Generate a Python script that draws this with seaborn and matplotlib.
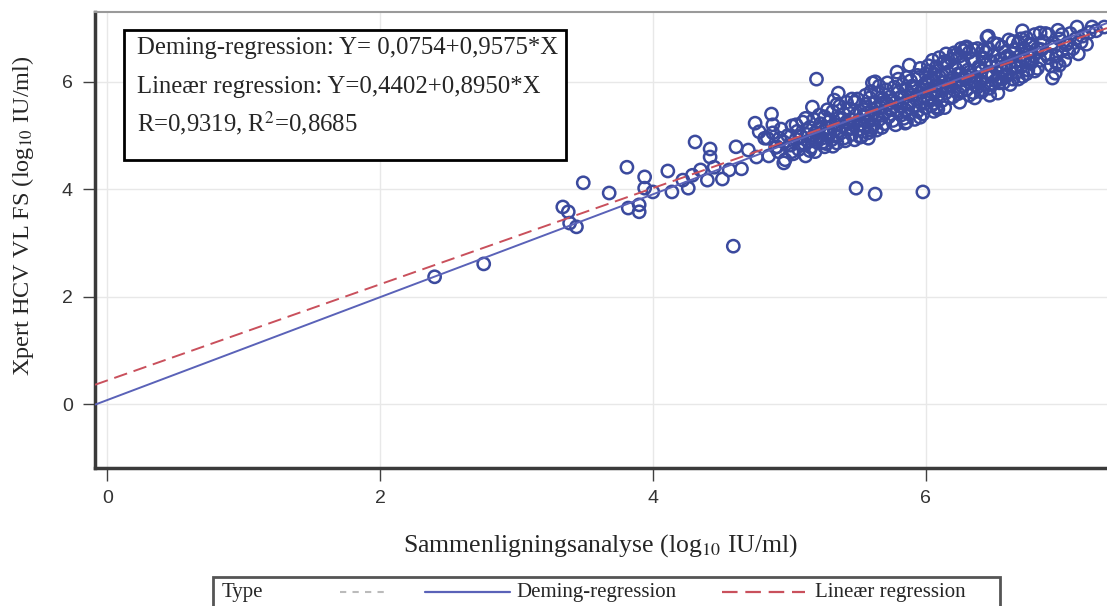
import numpy as np
import pandas as pd
import seaborn as sns
import matplotlib.pyplot as plt
from matplotlib.lines import Line2D
from matplotlib.patches import Rectangle

# regression coefficients from the chart
deming_a, deming_b = 0.0754, 0.9575
lin_a, lin_b = 0.4402, 0.8950
line_x = [-0.09, 7.33]

# sparse points (low range + outliers)
x_sparse = [2.40, 2.76, 3.34, 3.38, 3.39, 3.44, 3.49, 3.68, 3.81, 3.82, 3.90, 3.94, 3.94, 3.90,
            4.00, 4.11, 4.14, 4.22, 4.26, 4.29, 4.31, 4.35, 4.40, 4.42, 4.42, 4.45, 4.51, 4.56,
            4.59, 4.61, 4.65, 4.70, 4.75, 4.76, 4.78, 4.87, 4.84, 4.91, 4.96, 4.88, 4.93,
            5.49, 5.63, 5.98]
y_sparse = [2.37, 2.61, 3.67, 3.58, 3.37, 3.30, 4.12, 3.93, 4.41, 3.65, 3.71, 4.23, 4.02, 3.58,
            3.95, 4.34, 3.95, 4.17, 4.02, 4.26, 4.88, 4.36, 4.17, 4.75, 4.60, 4.41, 4.19, 4.36,
            2.94, 4.79, 4.38, 4.73, 5.23, 4.60, 5.07, 5.40, 4.95, 4.79, 4.49, 5.20, 4.95,
            4.02, 3.91, 3.95]

# edge points of the dense cloud
x_edge = [5.20, 5.17, 5.33, 5.36, 5.61, 5.63, 5.79, 5.88, 5.85, 5.96, 6.08, 6.09, 6.21, 6.29,
          5.52, 5.60, 5.26, 5.35, 6.30, 6.42, 6.45, 6.71, 6.84, 6.97, 6.41, 6.47, 6.53, 6.93,
          6.95, 6.98, 7.03, 7.14, 7.11, 7.22, 7.31]
y_edge = [6.05, 5.53, 5.66, 5.79, 5.98, 6.00, 6.18, 6.31, 5.23, 5.34, 5.53, 5.49, 6.54, 6.63,
          4.97, 5.10, 4.79, 4.86, 6.65, 6.59, 6.83, 6.95, 6.91, 6.96, 5.81, 5.75, 5.79, 6.07,
          6.16, 6.31, 6.69, 6.74, 7.02, 7.02, 7.02]

# dense cloud, by band of x
x_band_a = [4.82, 4.85, 4.88, 4.90, 4.92, 4.94, 4.96, 4.97, 4.99, 5.01, 5.02, 5.03, 5.05, 5.06, 5.07,
            5.09, 5.10, 5.11, 5.12, 5.13, 5.14, 5.15, 5.16, 5.17, 5.18, 5.19, 5.19, 5.20, 5.21, 5.22]
y_band_a = [4.95, 4.62, 5.05, 4.78, 4.70, 5.12, 4.88, 4.55, 5.00, 4.82, 5.18, 4.66, 4.93, 5.08, 4.74,
            4.98, 5.25, 4.85, 4.62, 5.02, 4.90, 5.15, 4.78, 4.96, 5.30, 5.05, 4.70, 4.88, 5.12, 4.98]

x_band_b = [5.23, 5.24, 5.25, 5.26, 5.27, 5.28, 5.29, 5.30, 5.31, 5.32, 5.33, 5.34, 5.35, 5.36,
            5.37, 5.38, 5.39, 5.40, 5.41, 5.42, 5.43, 5.44, 5.45, 5.46, 5.47, 5.48, 5.49, 5.50,
            5.51, 5.52, 5.53, 5.54, 5.55, 5.56, 5.57, 5.58, 5.58, 5.59, 5.60, 5.60]
y_band_b = [5.22, 4.95, 5.08, 5.35, 4.85, 5.15, 5.02, 5.28, 4.92, 5.45, 5.10, 5.20, 4.98, 5.32,
            5.55, 5.05, 5.18, 5.40, 4.90, 5.25, 5.12, 5.50, 5.30, 5.02, 5.20, 5.62, 5.38, 5.10,
            5.28, 5.45, 4.98, 5.35, 5.18, 5.58, 5.42, 5.05, 5.25, 5.70, 5.33, 5.15]

x_band_c = [5.61, 5.62, 5.63, 5.64, 5.65, 5.66, 5.67, 5.68, 5.69, 5.70, 5.71, 5.72, 5.73, 5.74,
            5.75, 5.76, 5.77, 5.78, 5.79, 5.80, 5.81, 5.82, 5.83, 5.84, 5.85, 5.86, 5.87, 5.88,
            5.89, 5.90, 5.91, 5.92, 5.93, 5.94, 5.95, 5.96, 5.97, 5.98, 5.99, 6.00, 6.00, 5.99]
y_band_c = [5.48, 5.20, 5.62, 5.38, 5.78, 5.30, 5.52, 5.15, 5.68, 5.42, 5.85, 5.58, 5.35, 5.72,
            5.50, 5.28, 5.90, 5.62, 5.45, 5.80, 5.55, 5.38, 5.95, 5.70, 5.48, 5.85, 5.62, 5.40,
            6.02, 5.75, 5.55, 5.88, 5.68, 5.45, 6.08, 5.80, 5.60, 5.92, 5.72, 5.52, 6.15, 5.85]

x_band_d = [6.01, 6.02, 6.03, 6.04, 6.05, 6.06, 6.07, 6.08, 6.09, 6.10, 6.11, 6.12, 6.13, 6.14,
            6.15, 6.16, 6.17, 6.18, 6.19, 6.20, 6.21, 6.22, 6.23, 6.24, 6.25, 6.26, 6.27, 6.28,
            6.29, 6.30, 6.31, 6.32, 6.33, 6.34, 6.35, 6.36, 6.37, 6.38, 6.39, 6.40, 6.05, 6.15,
            6.25, 6.35, 6.12, 6.22, 6.32, 6.02]
y_band_d = [5.95, 5.68, 6.20, 5.82, 6.05, 5.60, 5.92, 6.28, 5.75, 6.10, 5.88, 5.65, 6.35, 6.00,
            5.80, 6.18, 5.95, 5.70, 6.42, 6.08, 5.85, 6.25, 6.02, 5.78, 6.48, 6.15, 5.92, 6.32,
            6.05, 5.85, 6.22, 6.55, 5.98, 6.12, 5.80, 6.38, 6.08, 5.90, 6.28, 6.00, 6.40, 6.52,
            5.62, 6.60, 6.12, 5.98, 6.18, 6.02]

x_band_e = [6.41, 6.42, 6.43, 6.44, 6.45, 6.46, 6.47, 6.48, 6.49, 6.50, 6.51, 6.52, 6.53, 6.54,
            6.55, 6.56, 6.57, 6.58, 6.59, 6.60, 6.61, 6.62, 6.63, 6.64, 6.65, 6.66, 6.67, 6.68,
            6.69, 6.70, 6.71, 6.72, 6.73, 6.74, 6.75, 6.76, 6.77, 6.78, 6.79, 6.80]
y_band_e = [6.20, 6.45, 5.95, 6.32, 6.10, 6.62, 5.88, 6.38, 6.15, 6.50, 6.02, 6.28, 6.70, 6.08,
            6.42, 6.22, 5.98, 6.55, 6.32, 6.12, 6.78, 6.45, 6.25, 6.05, 6.60, 6.38, 6.18, 6.72,
            6.48, 6.28, 6.10, 6.62, 6.40, 6.82, 6.22, 6.55, 6.35, 6.70, 6.48, 6.20]

x_band_f = [6.82, 6.84, 6.86, 6.88, 6.90, 6.92, 6.94, 6.96, 6.98, 7.00, 7.02, 7.04, 7.06, 7.08,
            7.10, 7.12, 7.15, 7.18, 7.20, 7.25]
y_band_f = [6.62, 6.40, 6.75, 6.52, 6.88, 6.30, 6.65, 6.48, 6.80, 6.58, 6.40, 6.72, 6.90, 6.62,
            6.80, 6.52, 6.85, 6.70, 6.92, 6.95]

# second layer of the core, wider spread
x_core2 = [5.02, 5.05, 5.08, 5.12, 5.15, 5.18, 5.22, 5.25, 5.28, 5.30, 5.32, 5.35, 5.38, 5.40,
           5.42, 5.45, 5.48, 5.50, 5.52, 5.55, 5.58, 5.60, 5.62, 5.64, 5.66, 5.68, 5.70, 5.72,
           5.74, 5.76, 5.78, 5.80, 5.82, 5.84, 5.86, 5.88, 5.90, 5.92, 5.94, 5.96, 5.98, 6.00,
           6.02, 6.04, 6.06, 6.08, 6.10, 6.12, 6.14, 6.16, 6.18, 6.20, 6.22, 6.24, 6.26, 6.28,
           6.30, 6.32, 6.34, 6.36, 6.38, 6.40, 6.42, 6.44, 6.46, 6.48, 6.50, 6.52, 6.54, 6.56,
           6.58, 6.60, 6.62, 6.64, 6.66, 6.68, 6.70, 6.72, 6.74, 6.76, 6.78, 6.80, 6.82, 6.85,
           6.88, 6.90, 6.93, 6.96, 7.00, 7.05, 5.96, 6.06, 6.26, 6.46, 5.56, 5.46, 6.14, 6.36,
           5.86, 6.56]
y_core2 = [4.70, 5.20, 4.85, 5.32, 4.72, 5.00, 5.38, 4.88, 5.48, 5.05, 4.80, 5.58, 5.30, 4.95,
           5.62, 5.15, 4.92, 5.68, 5.20, 5.48, 4.95, 5.82, 5.42, 5.10, 5.92, 5.60, 5.22, 5.98,
           5.48, 5.65, 5.20, 6.05, 5.72, 5.32, 6.08, 5.58, 5.92, 5.30, 6.12, 5.68, 5.40, 5.98,
           6.30, 5.55, 6.15, 5.82, 6.45, 5.92, 5.52, 6.35, 6.02, 5.72, 6.50, 6.15, 5.82, 6.58,
           6.10, 5.75, 6.42, 6.00, 6.62, 6.25, 5.85, 6.55, 6.18, 5.95, 6.72, 6.38, 5.98, 6.65,
           6.12, 6.48, 5.95, 6.75, 6.30, 6.05, 6.80, 6.45, 6.15, 6.70, 6.38, 6.88, 6.25, 6.60,
           6.90, 6.45, 6.72, 6.35, 6.88, 6.55, 6.25, 5.45, 6.62, 6.85, 5.75, 5.68, 6.38, 5.70,
           5.25, 6.05]

pts = pd.DataFrame({
    "x": x_sparse + x_edge + x_band_a + x_band_b + x_band_c + x_band_d + x_band_e + x_band_f + x_core2,
    "y": y_sparse + y_edge + y_band_a + y_band_b + y_band_c + y_band_d + y_band_e + y_band_f + y_core2,
})
lines = pd.DataFrame({
    "x": line_x + line_x,
    "y": [deming_a + deming_b * v for v in line_x] + [lin_a + lin_b * v for v in line_x],
    "Type": ["Deming-regression"] * 2 + ["Lineær regression"] * 2,
})

sns.set_style("whitegrid")
plt.rcParams["font.family"] = ["Liberation Serif", "DejaVu Serif"]
plt.rcParams["mathtext.fontset"] = "stix"

point_col = "#3B4A9E"
blue = "#5A62B8"
red = "#C9505C"

fig = plt.figure(figsize=(11.07, 6.06), dpi=100)
ax = fig.add_axes([95 / 1107, 1 - 468 / 606, 1 - 95 / 1107, (468 - 12) / 606])

sns.scatterplot(data=pts, x="x", y="y", ax=ax, marker="o", s=78, facecolor="none",
                edgecolor=point_col, linewidth=1.8, legend=False, zorder=3)
sns.lineplot(data=lines, x="x", y="y", hue="Type", style="Type", ax=ax,
             palette=[blue, red], dashes=[(1, 0), (7, 3.5)], linewidth=1.4,
             legend=False, zorder=4)

ax.set_xlim(-0.09, 7.33)
ax.set_ylim(-1.19, 7.30)
ax.set_xticks([0, 2, 4, 6])
ax.set_yticks([0, 2, 4, 6])
ax.grid(True, color="#E8E8E8", linewidth=1)
ax.tick_params(axis="both", length=9, width=1, color="#404040", labelsize=14,
               labelcolor="#333333", pad=7, left=True, bottom=True)
for lab in ax.get_xticklabels() + ax.get_yticklabels():
    lab.set_family(["Liberation Sans", "DejaVu Sans"])

ax.spines["right"].set_visible(False)
ax.spines["top"].set_color("#9A9A9A")
ax.spines["top"].set_linewidth(1.5)
for s in ["left", "bottom"]:
    ax.spines[s].set_color("#3A3A3A")
    ax.spines[s].set_linewidth(2.5)

ax.set_xlabel("Sammenligningsanalyse (log$_{10}$ IU/ml)", fontsize=18.5, labelpad=18)
ax.set_ylabel("Xpert HCV VL FS (log$_{10}$ IU/ml)", fontsize=17.5)
ax.yaxis.set_label_coords(-0.058, 0.553)

# equation box
ax.add_patch(Rectangle((0.0287, 0.6754), 0.4367, 0.2851, transform=ax.transAxes,
                       facecolor="white", edgecolor="black", linewidth=2, zorder=5))
box_lines = ["Deming-regression: Y= 0,0754+0,9575*X",
             "Lineær regression: Y=0,4402+0,8950*X",
             "R=0,9319, R$^{2}$=0,8685"]
for txt, yy in zip(box_lines, [0.908, 0.8224, 0.739]):
    ax.text(0.0415, yy, txt, transform=ax.transAxes, fontsize=17.8, va="baseline",
            ha="left", zorder=6)

# legend along the bottom edge
fig.add_artist(Rectangle((213 / 1107, -0.05), (1000 - 213) / 1107, 0.0479 + 0.05,
                         transform=fig.transFigure, facecolor="white",
                         edgecolor="#555555", linewidth=2))
ly = 1 - 592 / 606
fig.text(222 / 1107, ly, "Type", fontsize=15, va="center", ha="left")
fig.add_artist(Line2D([340 / 1107, 390 / 1107], [ly, ly], transform=fig.transFigure,
                      color="#BBBBBB", linewidth=1.5, dashes=(3, 3)))
fig.add_artist(Line2D([425 / 1107, 510 / 1107], [ly, ly], transform=fig.transFigure,
                      color=blue, linewidth=1.6))
fig.text(516 / 1107, ly, "Deming-regression", fontsize=15, va="center", ha="left")
fig.add_artist(Line2D([722 / 1107, 805 / 1107], [ly, ly], transform=fig.transFigure,
                      color=red, linewidth=1.6, dashes=(7, 3.5)))
fig.text(815 / 1107, ly, "Lineær regression", fontsize=15, va="center", ha="left")

fig.savefig("out.png", dpi=100)
